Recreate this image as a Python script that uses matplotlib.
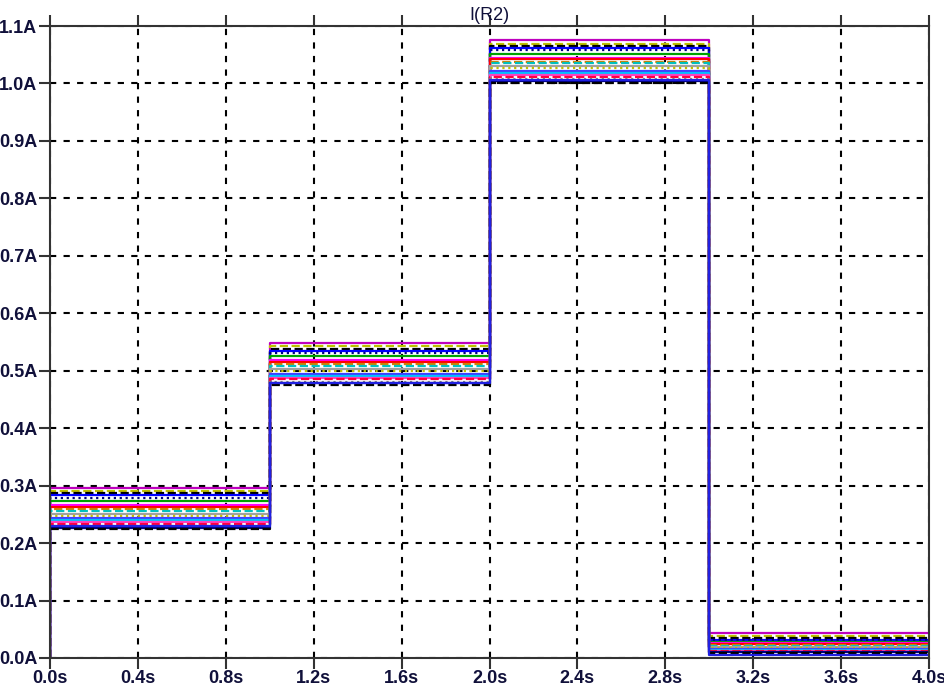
import matplotlib.pyplot as plt
import numpy as np

# step breakpoints (s)
t_steps = [0.0, 0.0, 1.0, 2.0, 3.0, 4.0]

# current level of each run in each 1 s interval (A)
level_1 = [0.296, 0.290, 0.287, 0.283, 0.279, 0.273, 0.267, 0.263, 0.259, 0.255,
           0.251, 0.247, 0.243, 0.240, 0.237, 0.234, 0.230, 0.227, 0.224, 0.229]
level_2 = [0.549, 0.543, 0.538, 0.534, 0.530, 0.525, 0.519, 0.516, 0.512, 0.508,
           0.503, 0.500, 0.495, 0.491, 0.488, 0.485, 0.481, 0.478, 0.476, 0.479]
level_3 = [1.076, 1.069, 1.066, 1.062, 1.058, 1.052, 1.045, 1.042, 1.038, 1.035,
           1.030, 1.027, 1.022, 1.018, 1.015, 1.012, 1.008, 1.004, 1.001, 1.006]
level_4 = [0.043, 0.038, 0.034, 0.032, 0.031, 0.028, 0.026, 0.024, 0.022, 0.021,
           0.019, 0.018, 0.016, 0.014, 0.013, 0.012, 0.011, 0.010, 0.009, 0.005]

colors = ['#bf00bf', '#bfbf00', '#000000', '#0000ff', '#00007f', '#00a000', '#ff00ff',
          '#ff0000', '#d08000', '#00c0c0', '#a0a0a0', '#c0c000', '#4040ff', '#00bfff',
          '#ff40c0', '#ff0040', '#808080', '#000080', '#000000', '#2020e0']
styles = ['-', '--', '--', '-', ':', '-', '-', '-', '--', '--',
          '-', ':', '-', '-', '-', '--', ':', '-', '--', '-']

xticks = np.arange(0, 4.01, 0.4)
yticks = np.arange(0, 1.101, 0.1)

fig = plt.figure(figsize=(9.45, 6.94), dpi=100)
ax = fig.add_axes([0.0529, 0.0519, 0.9302, 0.9106])

for i in range(len(level_1)):
    y = [0.0, level_1[i], level_2[i], level_3[i], level_4[i], level_4[i]]
    ax.step(t_steps, y, where='post', color=colors[i], ls=styles[i], lw=1.6)

ax.set_xlim(0, 4)
ax.set_ylim(0, 1.1)
ax.set_xticks(xticks)
ax.set_yticks(yticks)
ax.set_xticklabels([f'{v:.1f}s' for v in xticks])
ax.set_yticklabels([f'{v:.1f}A' for v in yticks])
ax.grid(True, color='black', ls=(0, (3, 3.5)), lw=1.5)
ax.tick_params(direction='out', length=8, width=1.5, color='#333333',
               labelsize=13, labelcolor='#10103a', top=True, pad=1)
for lab in ax.get_xticklabels() + ax.get_yticklabels():
    lab.set_fontweight('bold')
    lab.set_family('Liberation Sans')
for s in ax.spines.values():
    s.set_color('#333333')
    s.set_linewidth(1.5)
ax.set_title('I(R2)', fontsize=13, family='Liberation Sans', color='#10103a', pad=4)

fig.savefig('out.png', dpi=100)
